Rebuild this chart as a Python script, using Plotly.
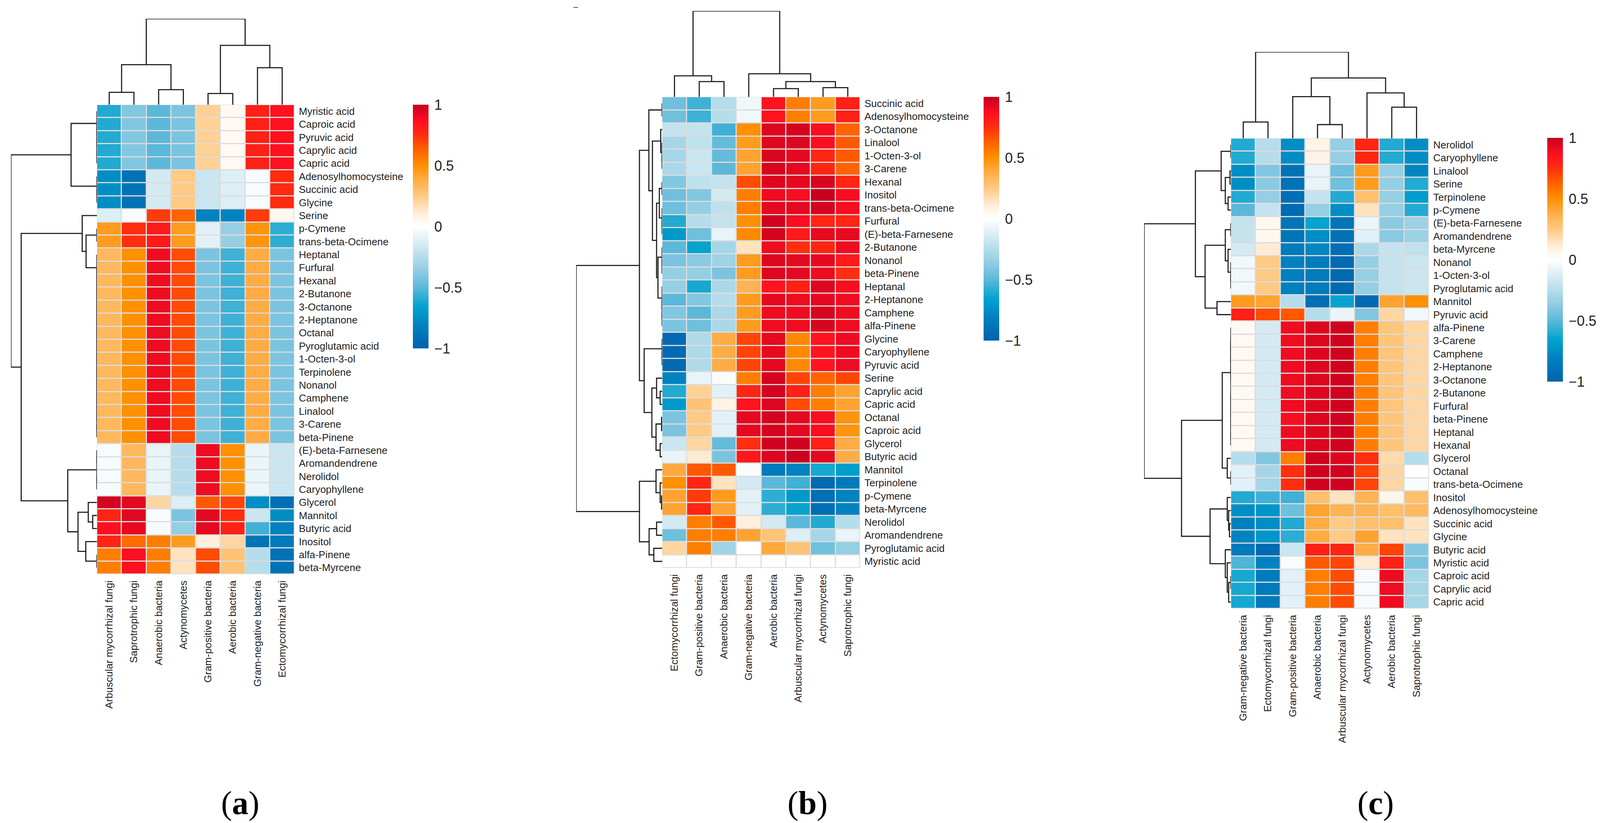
import plotly.graph_objects as go

# ---------------- panel (a)
A_COLS = ["Arbuscular mycorrhizal fungi", "Saprotrophic fungi", "Anaerobic bacteria",
          "Actynomycetes", "Gram-positive bacteria", "Aerobic bacteria",
          "Gram-negative bacteria", "Ectomycorrhizal fungi"]
A_ROWS = ["Myristic acid", "Caproic acid", "Pyruvic acid", "Caprylic acid", "Capric acid",
          "Adenosylhomocysteine", "Succinic acid", "Glycine", "Serine", "p-Cymene",
          "trans-beta-Ocimene", "Heptanal", "Furfural", "Hexanal", "2-Butanone",
          "3-Octanone", "2-Heptanone", "Octanal", "Pyroglutamic acid", "1-Octen-3-ol",
          "Terpinolene", "Nonanol", "Camphene", "Linalool", "3-Carene", "beta-Pinene",
          "(E)-beta-Farnesene", "Aromandendrene", "Nerolidol", "Caryophyllene",
          "Glycerol", "Mannitol", "Butyric acid", "Inositol", "alfa-Pinene", "beta-Myrcene"]
A_VALUES = [
    [-0.60, -0.40, -0.50, -0.42, 0.22, 0.04, 0.80, 0.86],
    [-0.60, -0.40, -0.50, -0.42, 0.22, 0.04, 0.80, 0.86],
    [-0.60, -0.40, -0.50, -0.42, 0.22, 0.04, 0.80, 0.86],
    [-0.60, -0.40, -0.50, -0.42, 0.22, 0.04, 0.80, 0.86],
    [-0.60, -0.40, -0.50, -0.42, 0.22, 0.04, 0.80, 0.86],
    [-0.75, -0.90, -0.15, 0.25, -0.18, -0.12, -0.03, 0.76],
    [-0.75, -0.90, -0.15, 0.25, -0.18, -0.12, -0.03, 0.76],
    [-0.75, -0.90, -0.15, 0.25, -0.18, -0.12, -0.03, 0.76],
    [-0.12, -0.02, 0.72, 0.62, -0.80, -0.80, 0.72, 0.05],
    [0.45, 0.75, 0.82, 0.45, -0.10, -0.35, 0.48, -0.58],
    [0.45, 0.75, 0.82, 0.45, -0.10, -0.35, 0.48, -0.58],
    [0.33, 0.50, 0.90, 0.68, -0.42, -0.55, 0.38, -0.42],
    [0.33, 0.50, 0.90, 0.68, -0.42, -0.55, 0.38, -0.42],
    [0.33, 0.50, 0.90, 0.68, -0.42, -0.55, 0.38, -0.42],
    [0.33, 0.50, 0.90, 0.68, -0.42, -0.55, 0.38, -0.42],
    [0.33, 0.50, 0.90, 0.68, -0.42, -0.55, 0.38, -0.42],
    [0.33, 0.50, 0.90, 0.68, -0.42, -0.55, 0.38, -0.42],
    [0.33, 0.50, 0.90, 0.68, -0.42, -0.55, 0.38, -0.42],
    [0.33, 0.50, 0.90, 0.68, -0.42, -0.55, 0.38, -0.42],
    [0.33, 0.50, 0.90, 0.68, -0.42, -0.55, 0.38, -0.42],
    [0.33, 0.50, 0.90, 0.68, -0.42, -0.55, 0.38, -0.42],
    [0.33, 0.50, 0.90, 0.68, -0.42, -0.55, 0.38, -0.42],
    [0.33, 0.50, 0.90, 0.68, -0.42, -0.55, 0.38, -0.42],
    [0.33, 0.50, 0.90, 0.68, -0.42, -0.55, 0.38, -0.42],
    [0.33, 0.50, 0.90, 0.68, -0.42, -0.55, 0.38, -0.42],
    [0.33, 0.50, 0.90, 0.68, -0.42, -0.55, 0.38, -0.42],
    [-0.03, 0.33, -0.08, -0.25, 0.90, 0.50, -0.07, -0.18],
    [-0.03, 0.33, -0.08, -0.25, 0.90, 0.50, -0.07, -0.18],
    [-0.03, 0.33, -0.08, -0.25, 0.90, 0.50, -0.07, -0.18],
    [-0.03, 0.33, -0.08, -0.25, 0.90, 0.50, -0.07, -0.18],
    [0.97, 0.93, 0.20, -0.12, 0.65, 0.70, -0.75, -0.92],
    [0.78, 0.94, -0.03, -0.42, 0.93, 0.75, -0.18, -0.75],
    [0.87, 0.92, -0.03, -0.35, 0.93, 0.80, -0.55, -0.82],
    [0.78, 0.60, 0.55, 0.45, 0.10, 0.20, -0.88, -0.85],
    [0.55, 0.87, 0.55, 0.15, 0.68, 0.28, -0.25, -0.90],
    [0.55, 0.87, 0.55, 0.15, 0.68, 0.28, -0.25, -0.90],
]
# trees: [left, right, merge height]; a range = tied leaves (zero height)
A_COL_TREE = [[[0, 1, 62], [2, 3, 75], 200], [[4, 5, 56], [6, 7, 185], 297], 430]
A_ROW_TREE = [
    [range(0, 5), range(5, 8), 93],
    [[8, [range(9, 11), range(11, 26), 39], 53],
     [[[26, 27, 0], [28, 29, 0], 0],
      [[30, [31, 32, 15], 31], [33, range(34, 36), 40], 68], 105], 273],
    310]

# ---------------- panel (b)
B_COLS = ["Ectomycorrhizal fungi", "Gram-positive bacteria", "Anaerobic bacteria",
          "Gram-negative bacteria", "Aerobic bacteria", "Arbuscular mycorrhizal fungi",
          "Actynomycetes", "Saprotrophic fungi"]
B_ROWS = ["Succinic acid", "Adenosylhomocysteine", "3-Octanone", "Linalool", "1-Octen-3-ol",
          "3-Carene", "Hexanal", "Inositol", "trans-beta-Ocimene", "Furfural",
          "(E)-beta-Farnesene", "2-Butanone", "Nonanol", "beta-Pinene", "Heptanal",
          "2-Heptanone", "Camphene", "alfa-Pinene", "Glycine", "Caryophyllene",
          "Pyruvic acid", "Serine", "Caprylic acid", "Capric acid", "Octanal",
          "Caproic acid", "Glycerol", "Butyric acid", "Mannitol", "Terpinolene",
          "p-Cymene", "beta-Myrcene", "Nerolidol", "Aromandendrene", "Pyroglutamic acid",
          "Myristic acid"]
B_VALUES = [
    [-0.45, -0.55, -0.25, -0.05, 0.85, 0.55, 0.45, 0.80],
    [-0.45, -0.55, -0.25, -0.05, 0.85, 0.55, 0.45, 0.80],
    [-0.20, -0.20, -0.55, 0.50, 0.95, 0.97, 0.88, 0.62],
    [-0.30, -0.22, -0.48, 0.45, 0.95, 0.95, 0.88, 0.65],
    [-0.30, -0.18, -0.48, 0.42, 0.96, 0.93, 0.78, 0.65],
    [-0.28, -0.18, -0.50, 0.42, 0.96, 0.93, 0.78, 0.62],
    [-0.40, -0.22, -0.20, 0.68, 0.95, 0.93, 0.96, 0.78],
    [-0.45, -0.40, -0.15, 0.55, 0.90, 0.88, 1.00, 0.88],
    [-0.45, -0.35, -0.22, 0.55, 0.93, 0.93, 0.97, 0.88],
    [-0.60, -0.25, -0.20, 0.50, 0.98, 0.88, 0.78, 0.78],
    [-0.70, -0.45, -0.08, 0.52, 0.97, 0.82, 0.92, 0.92],
    [-0.50, -0.65, -0.30, 0.15, 0.90, 0.75, 0.78, 0.90],
    [-0.42, -0.38, -0.32, 0.45, 0.95, 0.93, 0.92, 0.82],
    [-0.35, -0.35, -0.42, 0.45, 0.95, 0.93, 0.90, 0.75],
    [-0.35, -0.62, -0.28, 0.35, 0.85, 0.80, 0.95, 0.88],
    [-0.50, -0.40, -0.25, 0.45, 0.93, 0.90, 0.93, 0.90],
    [-0.40, -0.50, -0.28, 0.45, 0.90, 0.90, 0.96, 0.90],
    [-0.42, -0.45, -0.28, 0.45, 0.90, 0.90, 0.96, 0.90],
    [-0.95, -0.27, 0.38, 0.70, 0.92, 0.52, 0.85, 0.90],
    [-0.95, -0.27, 0.38, 0.70, 0.92, 0.52, 0.85, 0.90],
    [-0.95, -0.27, 0.38, 0.70, 0.92, 0.52, 0.85, 0.90],
    [-0.80, -0.08, -0.02, 0.55, 0.97, 0.70, 0.62, 0.70],
    [-0.60, 0.22, -0.10, 0.78, 0.97, 0.80, 0.55, 0.42],
    [-0.70, 0.28, 0.08, 0.85, 0.95, 0.68, 0.55, 0.42],
    [-0.42, 0.25, -0.10, 0.93, 0.97, 0.93, 0.88, 0.48],
    [-0.42, 0.25, -0.10, 0.93, 0.97, 0.93, 0.88, 0.48],
    [-0.18, 0.20, -0.48, 0.75, 0.98, 0.98, 0.80, 0.38],
    [-0.08, 0.12, -0.42, 0.83, 0.95, 0.99, 0.93, 0.38],
    [0.40, 0.65, 0.65, -0.02, -0.85, -0.80, -0.62, -0.68],
    [0.50, 0.78, 0.15, -0.15, -0.50, -0.55, -0.95, -0.85],
    [0.42, 0.72, 0.45, -0.10, -0.58, -0.70, -0.92, -0.80],
    [0.42, 0.78, 0.42, -0.10, -0.58, -0.65, -0.92, -0.80],
    [-0.15, 0.55, 0.65, 0.10, -0.15, -0.50, -0.60, -0.25],
    [-0.45, 0.55, 0.55, 0.42, 0.28, -0.12, -0.30, -0.08],
    [0.20, 0.55, -0.32, 0.00, 0.40, 0.28, -0.45, -0.35],
    [0.01, 0.01, 0.01, 0.01, 0.01, 0.01, 0.01, 0.01],
]
B_COL_TREE = [[0, [1, 2, 76], 105], [3, [[4, 5, 41], [6, 7, 46], 76], 115], 428]
B_ROW_TREE = [
    [[range(0, 2),
      [[2, range(3, 6), 5],
       [[range(6, 8), range(8, 11), 10], [range(11, 14), range(14, 18), 15], 20], 35], 48],
     [range(18, 21),
      [[21, [22, 23, 7], 20], [[24, 25, 2], [26, 27, 7], 22], 37], 65], 82],
    [[28, [29, [30, 31, 2], 7], 22], [[32, 33, 20], [34, 35, 30], 47], 82],
    311]

# ---------------- panel (c)
C_COLS = ["Gram-negative bacteria", "Ectomycorrhizal fungi", "Gram-positive bacteria",
          "Anaerobic bacteria", "Arbuscular mycorrhizal fungi", "Actynomycetes",
          "Aerobic bacteria", "Saprotrophic fungi"]
C_ROWS = ["Nerolidol", "Caryophyllene", "Linalool", "Serine", "Terpinolene", "p-Cymene",
          "(E)-beta-Farnesene", "Aromandendrene", "beta-Myrcene", "Nonanol", "1-Octen-3-ol",
          "Pyroglutamic acid", "Mannitol", "Pyruvic acid", "alfa-Pinene", "3-Carene",
          "Camphene", "2-Heptanone", "3-Octanone", "2-Butanone", "Furfural", "beta-Pinene",
          "Heptanal", "Hexanal", "Glycerol", "Octanal", "trans-beta-Ocimene", "Inositol",
          "Adenosylhomocysteine", "Succinic acid", "Glycine", "Butyric acid",
          "Myristic acid", "Caproic acid", "Caprylic acid", "Capric acid"]
C_VALUES = [
    [-0.60, -0.25, -0.75, 0.08, -0.35, 0.78, -0.60, -0.75],
    [-0.60, -0.25, -0.75, 0.08, -0.35, 0.78, -0.60, -0.75],
    [-0.75, -0.40, -0.90, -0.08, -0.45, 0.45, -0.35, -0.78],
    [-0.75, -0.38, -0.90, -0.08, -0.45, 0.45, -0.35, -0.60],
    [-0.60, -0.35, -0.92, -0.20, -0.60, 0.30, -0.35, -0.68],
    [-0.50, -0.20, -0.95, -0.35, -0.75, 0.15, -0.35, -0.60],
    [-0.20, 0.05, -0.88, -0.65, -0.88, -0.07, -0.38, -0.33],
    [-0.20, 0.05, -0.88, -0.75, -0.90, -0.10, -0.38, -0.33],
    [-0.15, 0.12, -0.85, -0.78, -0.92, -0.28, -0.20, -0.22],
    [-0.05, 0.25, -0.82, -0.85, -0.95, -0.35, -0.20, -0.18],
    [-0.05, 0.25, -0.82, -0.85, -0.95, -0.35, -0.20, -0.18],
    [-0.05, 0.25, -0.82, -0.85, -0.95, -0.35, -0.20, -0.18],
    [0.45, 0.42, -0.25, -0.92, -0.65, -0.95, 0.42, 0.50],
    [0.80, 0.68, 0.65, -0.25, -0.07, -0.40, 0.20, -0.05],
    [0.04, -0.15, 0.90, 0.95, 0.98, 0.55, 0.27, 0.20],
    [0.04, -0.15, 0.90, 0.95, 0.98, 0.55, 0.27, 0.20],
    [0.04, -0.15, 0.90, 0.95, 0.98, 0.55, 0.27, 0.20],
    [0.04, -0.15, 0.90, 0.95, 0.98, 0.55, 0.27, 0.20],
    [0.04, -0.15, 0.90, 0.95, 0.98, 0.55, 0.27, 0.20],
    [0.04, -0.15, 0.90, 0.95, 0.98, 0.55, 0.27, 0.20],
    [0.04, -0.15, 0.90, 0.95, 0.98, 0.55, 0.27, 0.20],
    [0.04, -0.15, 0.88, 0.95, 0.98, 0.55, 0.27, 0.20],
    [0.04, -0.15, 0.90, 0.95, 0.98, 0.55, 0.27, 0.20],
    [0.04, -0.15, 0.90, 0.95, 0.98, 0.55, 0.27, 0.20],
    [-0.25, -0.40, 0.55, 0.98, 0.95, 0.75, 0.18, -0.25],
    [-0.10, -0.30, 0.75, 0.98, 0.98, 0.70, 0.20, 0.00],
    [-0.10, -0.30, 0.75, 0.98, 0.98, 0.70, 0.20, -0.02],
    [-0.60, -0.55, -0.55, 0.30, 0.15, 0.35, 0.06, 0.30],
    [-0.75, -0.72, -0.45, 0.42, 0.35, 0.35, 0.30, 0.32],
    [-0.82, -0.75, -0.60, 0.38, 0.25, 0.30, 0.30, 0.15],
    [-0.80, -0.72, -0.58, 0.38, 0.25, 0.42, 0.15, 0.15],
    [-0.85, -0.95, -0.18, 0.80, 0.78, 0.38, 0.70, -0.40],
    [-0.52, -0.80, -0.02, 0.65, 0.70, 0.12, 0.80, -0.42],
    [-0.62, -0.85, -0.10, 0.55, 0.68, -0.03, 0.90, -0.30],
    [-0.62, -0.85, -0.10, 0.55, 0.68, -0.03, 0.90, -0.30],
    [-0.62, -0.85, -0.10, 0.55, 0.68, -0.03, 0.90, -0.30],
]
C_COL_TREE = [[0, 1, 124], [[2, [3, 4, 104], 317], [5, [6, 7, 237], 345], 459], 657]
C_ROW_TREE = [
    [[range(0, 2), [[2, 3, 3], [4, 5, 10], 20], 35],
     [[range(6, 8), [8, range(9, 12), 10], 20], [12, 13, 50], 93], 128],
    [[[range(14, 19), range(19, 24), 0], [24, range(25, 27), 13], 31],
     [[27, [28, [29, 30, 5], 8], 13],
      [31, [32, [range(33, 35), 35, 8], 13], 20], 75], 178],
    313]

PANELS = [
    (A_COLS, A_ROWS, A_VALUES, A_COL_TREE, A_ROW_TREE, "a"),
    (B_COLS, B_ROWS, B_VALUES, B_COL_TREE, B_ROW_TREE, "b"),
    (C_COLS, C_ROWS, C_VALUES, C_COL_TREE, C_ROW_TREE, "c"),
]

# ---------------- layout in pixels
W, H = 4109, 2107
# heatmap (left, right, top, bottom), col dendro top, row dendro left, colorbar (left, top), label x
BOXES = [
    dict(heat=(240, 746, 260, 1462), ctop=40, rleft=20, cbar=(1049, 260), lab=607),
    dict(heat=(1687, 2194, 240, 1446), ctop=20, rleft=1467, cbar=(2510, 240), lab=2059),
    dict(heat=(3143, 3650, 346, 1550), ctop=125, rleft=2921, cbar=(3953, 345), lab=3513),
]
LABEL_Y = 2048
CBAR_LEN = 624

SANS = "Liberation Sans, Arial, sans-serif"
SERIF = "Liberation Serif, Times New Roman, serif"
COLORSCALE = [
    [0.00, "#0062AD"], [0.10, "#0083C0"], [0.17, "#00A2CE"], [0.25, "#5CB8DA"],
    [0.33, "#99D0E5"], [0.42, "#D0E9F2"], [0.50, "#FFFFFF"], [0.55, "#FFF0DE"],
    [0.62, "#FFCC88"], [0.70, "#FFA83C"], [0.75, "#FF9000"], [0.83, "#FF5500"],
    [0.88, "#FF2A10"], [0.93, "#FF1020"], [1.00, "#C8001F"],
]


def fx(px):
    return px / W


def fy(px):
    return 1 - px / H


def expand(node):
    # tied leaves -> chain with zero height
    if isinstance(node, range):
        leaves = list(node)
        t = leaves[-1]
        for leaf in reversed(leaves[:-1]):
            t = [leaf, t, 0]
        return t
    if isinstance(node, int):
        return node
    return [expand(node[0]), expand(node[1]), node[2]]


def segments(node):
    # returns leaf-axis position, height, and U-shaped line coordinates
    if isinstance(node, int):
        return node, 0, [], []
    p1, h1, a1, b1 = segments(node[0])
    p2, h2, a2, b2 = segments(node[1])
    h = node[2]
    pos = (p1 + p2) / 2
    return pos, h, a1 + a2 + [p1, p1, p2, p2, None], b1 + b2 + [h1, h, h, h2, None]


def sfx(n):
    return "" if n == 1 else str(n)


fig = go.Figure()
layout = dict(width=W, height=H, margin=dict(l=0, r=0, t=0, b=0), template="none",
              paper_bgcolor="white", plot_bgcolor="white", showlegend=False,
              font=dict(family=SANS, color="#222222"))
shapes = []
annotations = []
line_style = dict(color="#1a1a1a", width=2.8)

for i, ((cols, rows, z, ctree, rtree, tag), box) in enumerate(zip(PANELS, BOXES)):
    nc, nr = len(cols), len(rows)
    l, r, t, b = box["heat"]
    hx, cx, rx = 3 * i + 1, 3 * i + 2, 3 * i + 3
    cax = "coloraxis" + sfx(i + 1)

    # heatmap
    fig.add_trace(go.Heatmap(z=z, x=list(range(nc)), y=list(range(nr)), coloraxis=cax,
                             xgap=3, ygap=3, xaxis="x" + sfx(hx), yaxis="y" + sfx(hx),
                             hoverinfo="skip"))
    shapes.append(dict(type="rect", xref="x" + sfx(hx), yref="y" + sfx(hx),
                       x0=-0.5, x1=nc - 0.5, y0=-0.5, y1=nr - 0.5,
                       fillcolor="#DCDCDC", line=dict(width=0), layer="below"))
    layout["xaxis" + sfx(hx)] = dict(domain=[fx(l), fx(r)], range=[-0.5, nc - 0.5],
                                     anchor="y" + sfx(hx), tickmode="array",
                                     tickvals=list(range(nc)), ticktext=cols, tickangle=-90,
                                     ticks="", showgrid=False, zeroline=False, showline=False,
                                     tickfont=dict(size=26, color="#222222"),
                                     ticklabelstandoff=10, automargin=False)
    layout["yaxis" + sfx(hx)] = dict(domain=[fy(b), fy(t)], range=[nr - 0.5, -0.5],
                                     anchor="x" + sfx(hx), side="right", tickmode="array",
                                     tickvals=list(range(nr)), ticktext=rows, ticks="",
                                     showgrid=False, zeroline=False, showline=False,
                                     tickfont=dict(size=26, color="#222222"),
                                     ticklabelstandoff=10, automargin=False)

    # column dendrogram
    _, root_h, xs, ys = segments(expand(ctree))
    ys = [None if v is None else v / root_h for v in ys]
    fig.add_trace(go.Scatter(x=xs, y=ys, mode="lines", line=line_style, cliponaxis=False,
                             xaxis="x" + sfx(cx), yaxis="y" + sfx(cx), hoverinfo="skip"))
    layout["xaxis" + sfx(cx)] = dict(domain=[fx(l), fx(r)], range=[-0.5, nc - 0.5],
                                     anchor="y" + sfx(cx), visible=False)
    layout["yaxis" + sfx(cx)] = dict(domain=[fy(t), fy(box["ctop"])], range=[0, 1],
                                     anchor="x" + sfx(cx), visible=False)

    # row dendrogram
    _, root_h, ps, hs = segments(expand(rtree))
    hs = [None if v is None else v / root_h for v in hs]
    fig.add_trace(go.Scatter(x=hs, y=ps, mode="lines", line=line_style, cliponaxis=False,
                             xaxis="x" + sfx(rx), yaxis="y" + sfx(rx), hoverinfo="skip"))
    layout["xaxis" + sfx(rx)] = dict(domain=[fx(box["rleft"]), fx(l)], range=[1, 0],
                                     anchor="y" + sfx(rx), visible=False)
    layout["yaxis" + sfx(rx)] = dict(domain=[fy(b), fy(t)], range=[nr - 0.5, -0.5],
                                     anchor="x" + sfx(rx), visible=False)

    # colour bar
    cbl, cbt = box["cbar"]
    layout[cax] = dict(colorscale=COLORSCALE, cmin=-1, cmax=1,
                       colorbar=dict(x=fx(cbl), xanchor="left", y=fy(cbt), yanchor="top",
                                     len=CBAR_LEN, lenmode="pixels", thickness=40,
                                     thicknessmode="pixels", xpad=0, ypad=0, outlinewidth=0,
                                     tickvals=[-1, -0.5, 0, 0.5, 1],
                                     ticktext=["\u22121", "\u22120.5", "0", "0.5", "1"],
                                     ticks="outside", ticklen=8, tickcolor="rgba(0,0,0,0)",
                                     tickfont=dict(size=36, family=SANS, color="#222222")))

    annotations.append(dict(text="(<b>%s</b>)" % tag, x=fx(box["lab"]), y=fy(LABEL_Y),
                            xref="paper", yref="paper", xanchor="center", yanchor="middle",
                            showarrow=False, font=dict(family=SERIF, size=84, color="black")))

# small stray dash above panel (b)
shapes.append(dict(type="line", xref="paper", yref="paper", x0=fx(1460), x1=fx(1472),
                   y0=fy(11), y1=fy(11), line=dict(color="#555555", width=2)))

layout["shapes"] = shapes
layout["annotations"] = annotations
fig.update_layout(**layout)
fig.write_html("out.html")
